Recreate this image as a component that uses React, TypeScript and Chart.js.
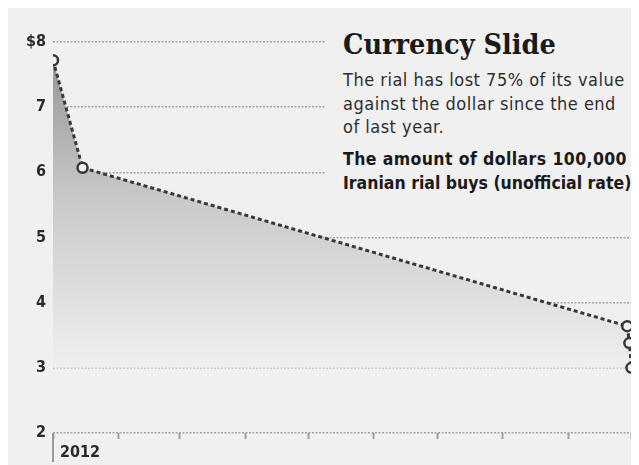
import React, { useEffect, useRef } from 'react';
import { Chart, registerables } from 'chart.js';

Chart.register(...registerables);

// ---- data ----
const pointDates = ['2012-01-01', '2012-01-15', '2012-09-29', '2012-09-30', '2012-10-01'];
const dollarsPer100kRial = [7.72, 6.07, 3.64, 3.38, 3.0];
const monthTickDates = [
  '2012-01-01', '2012-02-01', '2012-03-01', '2012-04-01', '2012-05-01',
  '2012-06-01', '2012-07-01', '2012-08-01', '2012-09-01', '2012-10-01',
];
const xTickLabels = ['2012', '', '', '', '', '', '', '', '', ''];
const yTickValues = [2, 3, 4, 5, 6, 7, 8];
const yTickLabels = ['2', '3', '4', '5', '6', '7', '$8'];

const titleText = 'Currency Slide';
const subtitleLines = [
  'The rial has lost 75% of its value',
  'against the dollar since the end',
  'of last year.',
];
const boldLines = ['The amount of dollars 100,000', 'Iranian rial buys (unofficial rate)'];

const DAY = 86400000;
const origin = Date.UTC(2012, 0, 1);
const toDay = (s: string) => (Date.parse(s + 'T00:00:00Z') - origin) / DAY;

const SANS = "'DejaVu Sans Condensed', 'Liberation Sans Narrow', 'Open Sans', sans-serif";
const SERIF = "'DejaVu Serif Condensed', 'DejaVu Serif', serif";

export default function App() {
  const canvasRef = useRef<HTMLCanvasElement | null>(null);

  useEffect(() => {
    const canvas = canvasRef.current;
    if (!canvas) return;
    const tickDays = monthTickDates.map(toDay);
    const pts = pointDates.map((d, i) => ({ x: toDay(d), y: dollarsPer100kRial[i] }));

    const longTick = {
      id: 'longTick',
      afterDraw(chart: any) {
        const c = chart.ctx;
        const x = chart.scales.x.getPixelForValue(tickDays[0]);
        const b = chart.chartArea.bottom;
        c.save();
        c.strokeStyle = '#9a9a9a';
        c.lineWidth = 2;
        c.beginPath();
        c.moveTo(x, b);
        c.lineTo(x, b + 29);
        c.stroke();
        c.restore();
      },
    };

    const chart = new Chart(canvas, {
      type: 'line',
      data: {
        datasets: [
          {
            data: pts,
            borderColor: '#383838',
            borderWidth: 3,
            borderDash: [4, 3],
            pointRadius: 5,
            pointBorderWidth: 2.5,
            pointBackgroundColor: '#f2f2f2',
            pointBorderColor: '#383838',
            tension: 0,
            fill: { value: 3 },
            backgroundColor: (ctx: any) => {
              const ch = ctx.chart;
              if (!ch.chartArea) return 'rgba(0,0,0,0)';
              const top = ch.scales.y.getPixelForValue(7.7);
              const bot = ch.scales.y.getPixelForValue(3);
              const g = ch.ctx.createLinearGradient(0, top, 0, bot);
              g.addColorStop(0, '#979797');
              g.addColorStop(0.45, '#c9c9c9');
              g.addColorStop(1, '#efefef');
              return g;
            },
          } as any,
        ],
      },
      options: {
        animation: false,
        responsive: false,
        maintainAspectRatio: false,
        layout: { padding: { top: 34, right: 4, left: 0, bottom: 0 } },
        plugins: { legend: { display: false }, tooltip: { enabled: false } },
        scales: {
          x: {
            type: 'linear',
            min: 0,
            max: tickDays[tickDays.length - 1],
            afterBuildTicks: (s: any) => {
              s.ticks = tickDays.map((v) => ({ value: v }));
            },
            afterFit: (s: any) => {
              s.height = 32;
            },
            border: { display: false },
            grid: {
              drawOnChartArea: false,
              drawTicks: true,
              tickLength: 6,
              tickColor: '#a0a0a0',
              tickWidth: 2,
            },
            ticks: {
              autoSkip: false,
              maxRotation: 0,
              align: 'start',
              labelOffset: 7,
              padding: 4,
              color: '#2a2a2a',
              font: { family: SANS, size: 16, weight: 'bold' },
              callback: (_v: any, i: number) => xTickLabels[i],
            },
          } as any,
          y: {
            min: 2,
            max: 8,
            afterBuildTicks: (s: any) => {
              s.ticks = yTickValues.map((v) => ({ value: v }));
            },
            afterFit: (s: any) => {
              s.width = 45;
            },
            border: { display: false, dash: [2, 1.5] },
            grid: { color: '#a3a3a3', lineWidth: 1.6, drawTicks: false },
            ticks: {
              padding: 7,
              color: '#2a2a2a',
              font: { family: SANS, size: 16, weight: 'bold' },
              callback: (_v: any, i: number) => yTickLabels[i],
            },
          } as any,
        },
      },
      plugins: [longTick],
    });
    return () => chart.destroy();
  }, []);

  return (
    <div style={{ position: 'relative', width: 631, height: 457, background: '#f0f0f0', overflow: 'hidden' }}>
      <canvas ref={canvasRef} width={631} height={457} style={{ display: 'block' }} />
      <div
        style={{
          position: 'absolute',
          left: 317,
          top: 16,
          width: 314,
          height: 190,
          background: '#f0f0f0',
          color: '#222',
        }}
      >
        <div
          style={{
            position: 'absolute',
            left: 18,
            top: 4,
            fontFamily: SERIF,
            fontWeight: 'bold',
            fontSize: 28.5,
            lineHeight: '32px',
            whiteSpace: 'nowrap',
            color: '#1a1a1a',
          }}
        >
          {titleText}
        </div>
        <div
          style={{
            position: 'absolute',
            left: 18,
            top: 44,
            fontFamily: SANS,
            fontSize: 18,
            letterSpacing: 0.5,
            lineHeight: '23.5px',
            whiteSpace: 'nowrap',
            color: '#2e2e2e',
          }}
        >
          {subtitleLines.map((l, i) => (
            <div key={i}>{l}</div>
          ))}
        </div>
        <div
          style={{
            position: 'absolute',
            left: 18,
            top: 123,
            fontFamily: SANS,
            fontSize: 17.5,
            fontWeight: 'bold',
            lineHeight: '24px',
            whiteSpace: 'nowrap',
            color: '#1a1a1a',
          }}
        >
          {boldLines.map((l, i) => (
            <div key={i} style={{ letterSpacing: i === 0 ? 0.4 : 0 }}>
              {l}
            </div>
          ))}
        </div>
      </div>
    </div>
  );
}
